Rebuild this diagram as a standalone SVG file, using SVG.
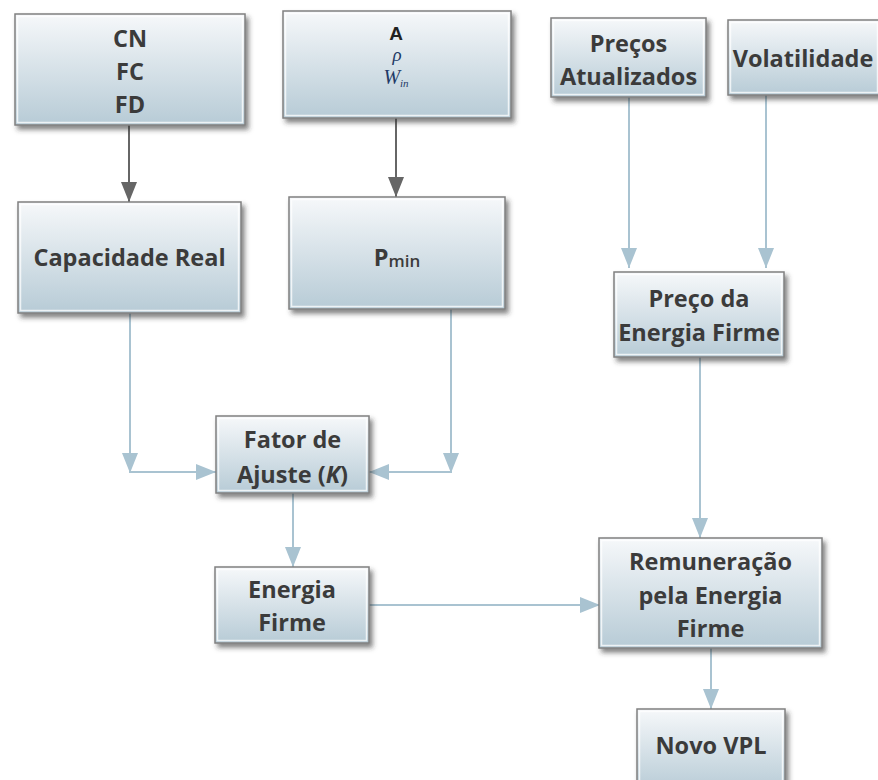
<svg xmlns="http://www.w3.org/2000/svg" width="878" height="780" viewBox="0 0 878 780">
<defs>
<linearGradient id="g" x1="0" y1="0" x2="0" y2="1">
<stop offset="0" stop-color="#f6f8fa"/>
<stop offset="1" stop-color="#b7cbd6"/>
</linearGradient>
<filter id="sh" x="-10%" y="-10%" width="125%" height="130%">
<feDropShadow dx="3" dy="4" stdDeviation="2.5" flood-color="#333" flood-opacity="0.6"/>
</filter>
<marker id="ad" markerUnits="userSpaceOnUse" markerWidth="20" markerHeight="16" refX="20" refY="8" orient="auto">
<path d="M0,0 L20,8 L0,16 z" fill="#666"/>
</marker>
<marker id="ab" markerUnits="userSpaceOnUse" markerWidth="20" markerHeight="16" refX="20" refY="8" orient="auto">
<path d="M0,0 L20,8 L0,16 z" fill="#a9c3d1"/>
</marker>
</defs>
<style>
.box{fill:url(#g);stroke:#808080;stroke-width:1.5;filter:url(#sh)}
.hl{fill:none;stroke:#fff;stroke-opacity:0.75;stroke-width:1.5}
.t{font-family:"Open Sans","Noto Sans",sans-serif;font-weight:700;font-size:23.5px;fill:#3b3b3b;text-anchor:middle;dominant-baseline:central}
.dk{stroke:#666;stroke-width:2;fill:none;marker-end:url(#ad)}
.bl{stroke:#a9c3d1;stroke-width:2;fill:none;marker-end:url(#ab)}
.m{font-family:"Liberation Serif",serif;font-style:italic;fill:#1f3a66;text-anchor:middle}
</style>
<rect width="878" height="780" fill="#fff"/>
<g id="connectors">
<line class="dk" x1="129" y1="125" x2="129" y2="202"/>
<line class="dk" x1="396" y1="118" x2="396" y2="197"/>
<line class="bl" x1="629" y1="97" x2="629" y2="268"/>
<line class="bl" x1="766" y1="95" x2="766" y2="268"/>
<line class="bl" x1="130" y1="313" x2="130" y2="473"/>
<line class="bl" x1="130" y1="472" x2="216" y2="472"/>
<line class="bl" x1="451" y1="309" x2="451" y2="473"/>
<line class="bl" x1="451" y1="472" x2="369" y2="472"/>
<line class="bl" x1="293" y1="493" x2="293" y2="567"/>
<line class="bl" x1="369" y1="605" x2="600" y2="605"/>
<line class="bl" x1="700" y1="357" x2="700" y2="538"/>
<line class="bl" x1="711" y1="648" x2="711" y2="709"/>
</g>
<g id="n-cn">
<rect class="box" x="15" y="14" width="230" height="111"/>
<rect class="hl" x="17.5" y="16.5" width="225" height="106"/>
<text class="t" x="130" y="38">CN</text>
<text class="t" x="130" y="71">FC</text>
<text class="t" x="130" y="104">FD</text>
</g>
<g id="n-a">
<rect class="box" x="283" y="11" width="228" height="107"/>
<rect class="hl" x="285.5" y="13.5" width="223" height="102"/>
<text x="396" y="40" text-anchor="middle" font-family="Liberation Sans,Arial,sans-serif" font-weight="700" font-size="19" fill="#222">A</text>
<text class="m" x="397" y="61" font-size="19">ρ</text>
<text class="m" x="396" y="84" font-size="20">W<tspan font-size="11" dy="3">in</tspan></text>
</g>
<g id="n-precos">
<rect class="box" x="551" y="18" width="155" height="79"/>
<rect class="hl" x="553.5" y="20.5" width="150" height="74"/>
<text class="t" x="628.5" y="43">Preços</text>
<text class="t" x="628.5" y="76">Atualizados</text>
</g>
<g id="n-vol">
<rect class="box" x="728" y="20" width="152" height="75"/>
<rect class="hl" x="730.5" y="22.5" width="147" height="70"/>
<text class="t" x="803" y="58">Volatilidade</text>
</g>
<g id="n-cap">
<rect class="box" x="18" y="202" width="223" height="111"/>
<rect class="hl" x="20.5" y="204.5" width="218" height="106"/>
<text class="t" x="129.5" y="257">Capacidade Real</text>
</g>
<g id="n-pmin">
<rect class="box" x="289" y="197" width="216" height="112"/>
<rect class="hl" x="291.5" y="199.5" width="211" height="107"/>
<text class="t" x="397" y="257" font-size="25">P<tspan font-size="17" font-weight="600" dy="3">min</tspan></text>
</g>
<g id="n-preco-ef">
<rect class="box" x="614" y="272" width="170" height="85"/>
<rect class="hl" x="616.5" y="274.5" width="165" height="80"/>
<text class="t" x="699" y="298">Preço da</text>
<text class="t" x="699" y="332">Energia Firme</text>
</g>
<g id="n-fator">
<rect class="box" x="216" y="416" width="153" height="77"/>
<rect class="hl" x="218.5" y="418.5" width="148" height="72"/>
<text class="t" x="292.5" y="439">Fator de</text>
<text class="t" x="292.5" y="474">Ajuste (<tspan font-style="italic">K</tspan>)</text>
</g>
<g id="n-ef">
<rect class="box" x="215" y="567" width="154" height="76"/>
<rect class="hl" x="217.5" y="569.5" width="149" height="71"/>
<text class="t" x="292" y="589">Energia</text>
<text class="t" x="292" y="622">Firme</text>
</g>
<g id="n-rem">
<rect class="box" x="599" y="538" width="223" height="110"/>
<rect class="hl" x="601.5" y="540.5" width="218" height="105"/>
<text class="t" x="710.5" y="561">Remuneração</text>
<text class="t" x="710.5" y="595">pela Energia</text>
<text class="t" x="710.5" y="628">Firme</text>
</g>
<g id="n-vpl">
<rect class="box" x="637" y="709" width="148" height="82"/>
<rect class="hl" x="639.5" y="711.5" width="143" height="77"/>
<text class="t" x="711" y="745">Novo VPL</text>
</g>
</svg>
